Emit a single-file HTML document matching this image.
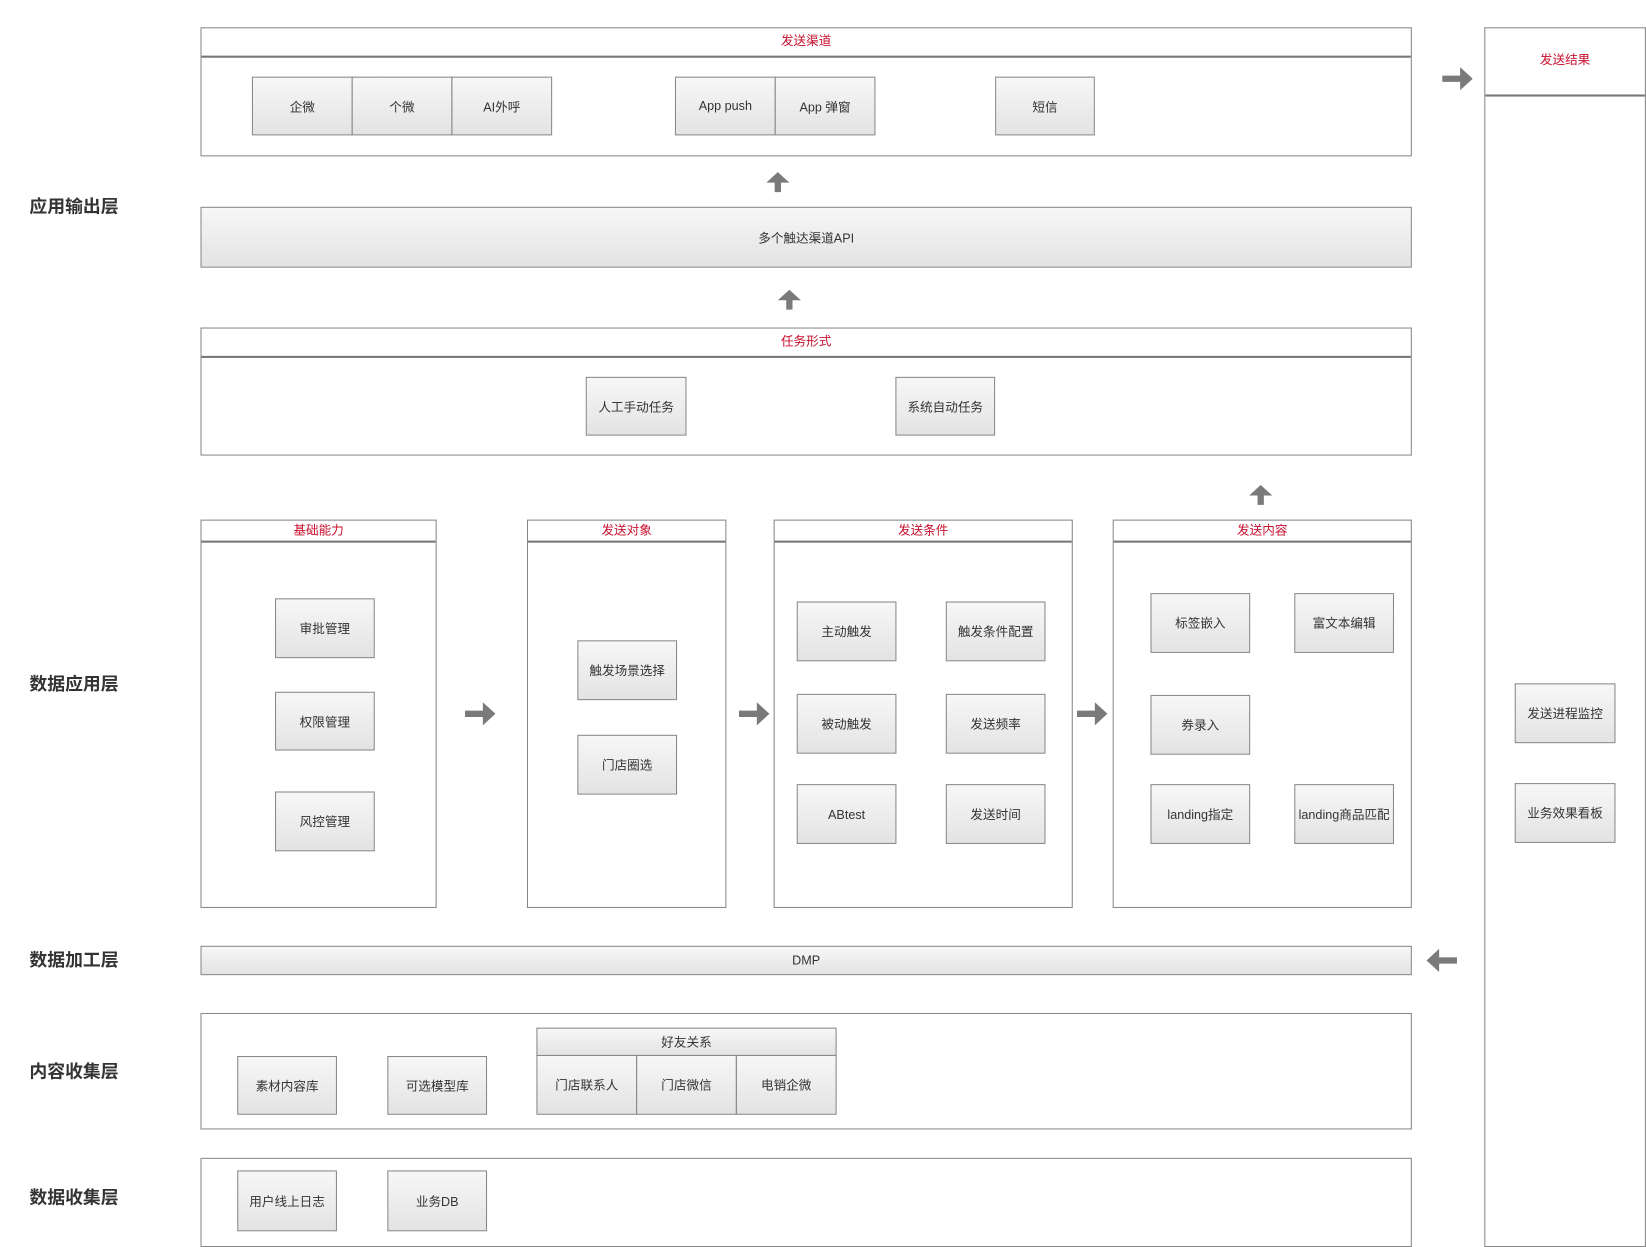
<!DOCTYPE html>
<html><head><meta charset="utf-8">
<style>
html,body{margin:0;padding:0;background:#fff;}
body{width:1646px;height:1247px;overflow:hidden;position:relative;}
#w{position:absolute;left:0;top:0;width:1568px;height:1188px;transform:scale(1.0497);transform-origin:0 0;font-family:"Liberation Sans","Noto Sans CJK SC",sans-serif;}
.c{position:absolute;border:1px solid #888;background:#fff;box-sizing:border-box;}
.h{position:absolute;left:0;right:0;top:0;border-bottom:2px solid #777;color:#c8102e;font-size:12px;text-align:center;box-sizing:border-box;}
.b{position:absolute;border:1px solid #888;box-sizing:border-box;background:linear-gradient(#f7f7f7,#e3e3e3);font-size:12px;color:#333;display:flex;align-items:center;justify-content:center;white-space:nowrap;}
.l{position:absolute;left:28px;font-size:17px;font-weight:bold;color:#333;transform:translateY(-50%);font-family:"Noto Sans CJK SC",sans-serif;}
svg{position:absolute;overflow:visible;}
</style></head><body><div id="w">
<div class="l" style="top:195px">应用输出层</div>
<div class="l" style="top:650px">数据应用层</div>
<div class="l" style="top:913px">数据加工层</div>
<div class="l" style="top:1019px">内容收集层</div>
<div class="l" style="top:1139px">数据收集层</div>

<div class="c" style="left:191px;top:26px;width:1154px;height:123px"><div class="h" style="height:28px;line-height:24px">发送渠道</div></div>
<div class="b" style="left:240px;top:73px;width:96px;height:56px">企微</div>
<div class="b" style="left:335px;top:73px;width:96px;height:56px">个微</div>
<div class="b" style="left:430px;top:73px;width:96px;height:56px">AI外呼</div>
<div class="b" style="left:643px;top:73px;width:96px;height:56px">App push</div>
<div class="b" style="left:738px;top:73px;width:96px;height:56px">App 弹窗</div>
<div class="b" style="left:948px;top:73px;width:95px;height:56px">短信</div>

<div class="b" style="left:191px;top:197px;width:1154px;height:58px">多个触达渠道API</div>

<div class="c" style="left:191px;top:312px;width:1154px;height:122px"><div class="h" style="height:28px;line-height:24px">任务形式</div></div>
<div class="b" style="left:558px;top:359px;width:96px;height:56px">人工手动任务</div>
<div class="b" style="left:853px;top:359px;width:95px;height:56px">系统自动任务</div>

<div class="c" style="left:191px;top:495px;width:225px;height:370px"><div class="h" style="height:21px;line-height:18px">基础能力</div></div>
<div class="b" style="left:262px;top:570px;width:95px;height:57px">审批管理</div>
<div class="b" style="left:262px;top:659px;width:95px;height:56px">权限管理</div>
<div class="b" style="left:262px;top:754px;width:95px;height:57px">风控管理</div>

<div class="c" style="left:502px;top:495px;width:190px;height:370px"><div class="h" style="height:21px;line-height:18px">发送对象</div></div>
<div class="b" style="left:550px;top:610px;width:95px;height:57px">触发场景选择</div>
<div class="b" style="left:550px;top:700px;width:95px;height:57px">门店圈选</div>

<div class="c" style="left:737px;top:495px;width:285px;height:370px"><div class="h" style="height:21px;line-height:18px">发送条件</div></div>
<div class="b" style="left:759px;top:573px;width:95px;height:57px">主动触发</div>
<div class="b" style="left:901px;top:573px;width:95px;height:57px">触发条件配置</div>
<div class="b" style="left:759px;top:661px;width:95px;height:57px">被动触发</div>
<div class="b" style="left:901px;top:661px;width:95px;height:57px">发送频率</div>
<div class="b" style="left:759px;top:747px;width:95px;height:57px">ABtest</div>
<div class="b" style="left:901px;top:747px;width:95px;height:57px">发送时间</div>

<div class="c" style="left:1060px;top:495px;width:285px;height:370px"><div class="h" style="height:21px;line-height:18px">发送内容</div></div>
<div class="b" style="left:1096px;top:565px;width:95px;height:57px">标签嵌入</div>
<div class="b" style="left:1233px;top:565px;width:95px;height:57px">富文本编辑</div>
<div class="b" style="left:1096px;top:662px;width:95px;height:57px">券录入</div>
<div class="b" style="left:1096px;top:747px;width:95px;height:57px">landing指定</div>
<div class="b" style="left:1233px;top:747px;width:95px;height:57px">landing商品匹配</div>

<div class="b" style="left:191px;top:901px;width:1154px;height:28px">DMP</div>

<div class="c" style="left:191px;top:965px;width:1154px;height:111px"></div>
<div class="b" style="left:226px;top:1006px;width:95px;height:56px">素材内容库</div>
<div class="b" style="left:369px;top:1006px;width:95px;height:56px">可选模型库</div>
<div class="b" style="left:511px;top:979px;width:286px;height:27px">好友关系</div>
<div class="b" style="left:511px;top:1005px;width:96px;height:57px">门店联系人</div>
<div class="b" style="left:606px;top:1005px;width:96px;height:57px">门店微信</div>
<div class="b" style="left:701px;top:1005px;width:96px;height:57px">电销企微</div>

<div class="c" style="left:191px;top:1103px;width:1154px;height:85px"></div>
<div class="b" style="left:226px;top:1115px;width:95px;height:58px">用户线上日志</div>
<div class="b" style="left:369px;top:1115px;width:95px;height:58px">业务DB</div>

<div class="c" style="left:1414px;top:26px;width:154px;height:1162px"><div class="h" style="height:65px;line-height:60px">发送结果</div></div>
<div class="b" style="left:1443px;top:651px;width:96px;height:57px">发送进程监控</div>
<div class="b" style="left:1443px;top:746px;width:96px;height:57px">业务效果看板</div>

<svg width="1568" height="1188" style="left:0;top:0">
<defs>
<g id="up"><polygon points="0,-10 11,0 3,0 3,9 -3,9 -3,0 -11,0" fill="#7a7a7a"/></g>
<g id="rt"><polygon points="0,-3 17,-3 17,-11 29,0 17,11 17,3 0,3" fill="#7a7a7a"/></g>
</defs>
<use href="#up" x="741" y="174"/>
<use href="#up" x="752" y="286"/>
<use href="#up" x="1201" y="472"/>
<use href="#rt" x="443" y="680"/>
<use href="#rt" x="704" y="680"/>
<use href="#rt" x="1026" y="680"/>
<use href="#rt" x="1374" y="75"/>
<use href="#rt" transform="translate(1388,915) scale(-1,1)"/>
</svg>
</div></body></html>
